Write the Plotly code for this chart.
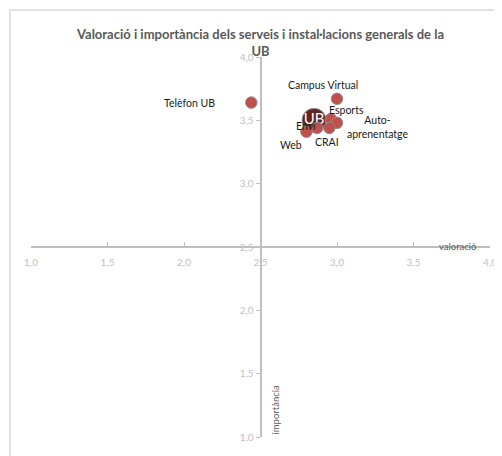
import plotly.graph_objects as go

# ---- data ----
services = ["Telèfon UB", "Campus Virtual", "Esports", "Auto-<br>aprenentatge", "CRAI", "Web", "Envi"]
valoracio = [2.44, 3.00, 2.96, 3.00, 2.95, 2.80, 2.87]
importancia = [3.64, 3.67, 3.51, 3.48, 3.44, 3.41, 3.44]

ub_label = ["UB"]
ub_valoracio = [2.85]
ub_importancia = [3.50]

tick_vals = [1.0, 1.5, 2.0, 2.5, 3.0, 3.5, 4.0]

# label offsets in pixels (x, y) relative to the point, y positive = up
label_offsets = {
    "Telèfon UB": (-62, 0),
    "Campus Virtual": (-14, 14),
    "Esports": (16, 9),
    "Auto-<br>aprenentatge": (40, -4),
    "CRAI": (-2, -14),
    "Web": (-15, -13),
    "Envi": (-11, 2),
}

FONT = "Lato"
axis_col = "#bfbfbf"
tick_font_col = "#bfbfbf"

fig = go.Figure()

fig.add_trace(go.Scatter(
    x=ub_valoracio, y=ub_importancia, mode="markers+text",
    text=ub_label, textposition="middle center",
    textfont=dict(family=FONT, size=15, color="white"),
    marker=dict(size=24, color="#632523", line=dict(color="#8c8c8c", width=1)),
    hoverinfo="skip", showlegend=False, cliponaxis=False,
))

fig.add_trace(go.Scatter(
    x=valoracio, y=importancia, mode="markers",
    marker=dict(size=11.5, color="#c0504d", line=dict(color="#8c8c8c", width=1)),
    hoverinfo="skip", showlegend=False, cliponaxis=False,
))

annotations = []
for name, xv, yv in zip(services, valoracio, importancia):
    dx, dy = label_offsets[name]
    annotations.append(dict(
        x=xv, y=yv, xref="x", yref="y", text=name, showarrow=False,
        xshift=dx, yshift=dy, align="center",
        font=dict(family=FONT, size=10.5, color="#1a1a1a"),
    ))

# axis titles
annotations.append(dict(
    x=1.0, y=0.5, xref="paper", yref="paper", text="valoració", showarrow=False,
    xanchor="right", yanchor="middle", xshift=-12, yshift=1,
    font=dict(family=FONT, size=9.5, color="#595959"),
))
annotations.append(dict(
    x=0.5, y=0.0, xref="paper", yref="paper", text="importància", showarrow=False,
    xanchor="center", yanchor="bottom", textangle=-90, xshift=14, yshift=0,
    font=dict(family=FONT, size=9.5, color="#595959"),
))

fig.update_layout(
    width=502, height=456,
    margin=dict(l=23, r=20, t=49, b=27, pad=0, autoexpand=False),
    paper_bgcolor="white", plot_bgcolor="white",
    separators=",.",
    title=dict(
        text="Valoració i importància dels serveis i instal·lacions generals de la<br>UB",
        x=0.5, xref="paper", xanchor="center",
        y=1 - 31 / 456, yref="container", yanchor="top",
        font=dict(family=FONT, size=13, color="#595959", weight="bold"),
    ),
    annotations=annotations,
    shapes=[dict(
        type="rect", xref="paper", yref="paper",
        x0=-0.0458, y0=-0.3, x1=1.2, y1=1.1237,
        line=dict(color="#d9d9d9", width=1.5), fillcolor="rgba(0,0,0,0)", layer="below",
    )],
)

fig.update_xaxes(
    range=[1, 4], tickvals=tick_vals, tickformat=".1f",
    showgrid=False, zeroline=False, automargin=False,
    showline=True, linecolor=axis_col, linewidth=2,
    anchor="free", position=0.5,
    ticks="inside", ticklen=4, tickcolor=axis_col, tickwidth=1,
    ticklabelstandoff=6,
    tickfont=dict(family=FONT, size=10, color=tick_font_col),
)
fig.update_yaxes(
    range=[1, 4], tickvals=tick_vals, tickformat=".1f",
    showgrid=False, zeroline=False, automargin=False,
    showline=True, linecolor=axis_col, linewidth=2,
    anchor="free", position=0.5,
    ticks="outside", ticklen=4, tickcolor=axis_col, tickwidth=1,
    tickfont=dict(family=FONT, size=10, color=tick_font_col),
)

fig.write_html("out.html")
